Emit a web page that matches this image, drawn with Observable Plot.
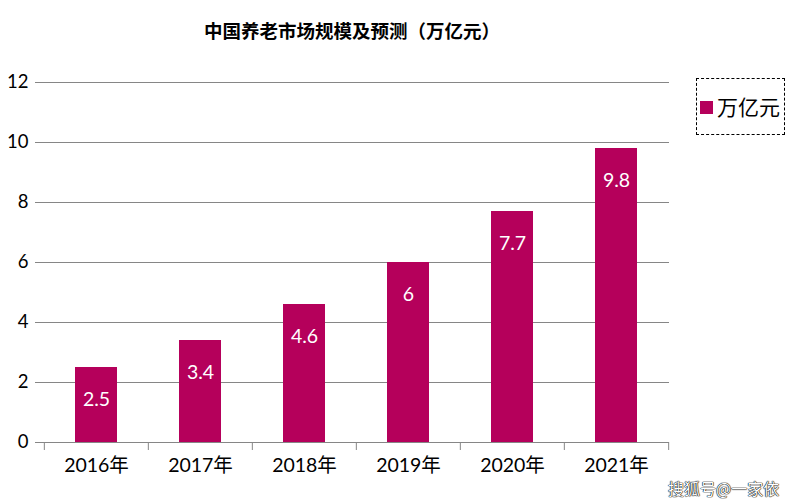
<!DOCTYPE html>
<html><head><meta charset="utf-8">
<script src="https://cdn.jsdelivr.net/npm/d3@7"></script>
<script src="https://cdn.jsdelivr.net/npm/@observablehq/plot@0.6"></script>
<style>
body{margin:0;background:#fff;font-family:Lato,"Noto Sans CJK SC",sans-serif;}
#wrap{position:relative;width:793px;height:504px;}
#title{height:50px;width:704px;text-align:center;line-height:60px;font-weight:bold;font-size:18.5px;color:#000;font-family:"Noto Sans CJK SC",sans-serif;}
#legend{position:absolute;left:696px;top:78px;width:87px;height:55px;border:1px dashed #000;}
#legend .sw{position:absolute;left:3px;top:22px;width:13px;height:13px;background:#B5005B;}
#legend .lb{position:absolute;left:20px;top:13px;font-size:21px;line-height:28px;font-family:"Noto Sans CJK SC",sans-serif;}
#wm{position:absolute;left:668px;top:476px;font-size:16px;color:#fff;font-family:"Noto Sans CJK SC",sans-serif;text-shadow:0 0 1px #000,0 0 1px #000,0 0 1px #000;}
</style></head>
<body><div id="wrap"><div id="title">中国养老市场规模及预测（万亿元）</div>
<div id="chart"></div>
<div id="legend"><div class="sw"></div><div class="lb">万亿元</div></div>
<div id="wm">搜狐号@一家依</div></div>
<script>
const years = ["2016年","2017年","2018年","2019年","2020年","2021年"];
const values = [2.5, 3.4, 4.6, 6, 7.7, 9.8];
const yTicks = [0,2,4,6,8,10,12];
const data = years.map((y,i)=>({year:y, value:values[i]}));
const color = "#B5005B";
const step = (793-43-124)/years.length;
const chart = Plot.plot({
  width:793, height:454,
  marginTop:32, marginBottom:62, marginLeft:43, marginRight:124,
  style:{fontFamily:'Lato,"Noto Sans CJK SC",sans-serif', fontSize:"18px", color:"#000", background:"#fff"},
  x:{domain:years, paddingInner:0.6, paddingOuter:0.3, label:null},
  y:{domain:[0,12], label:null},
  marks:[
    Plot.ruleY(yTicks, {stroke:"#868686", strokeOpacity:1, strokeWidth:1}),
    Plot.axisY({ticks:yTicks, tickSize:8, tickPadding:7, stroke:"#868686", strokeOpacity:1, fontSize:18.5, label:null}),
    Plot.ruleX([0], {frameAnchor:"left", stroke:"#868686", y1:0, y2:12, insetBottom:-8}),
    Plot.ruleX(years, {x:d=>d, dx:-step/2, y1:0, y2:0, insetBottom:-8, stroke:"#868686"}),
    Plot.ruleX([years[years.length-1]], {x:d=>d, dx:step/2, y1:0, y2:0, insetBottom:-8, stroke:"#868686"}),
    Plot.barY(data, {x:"year", y:"value", fill:color}),
    Plot.text(data, {x:"year", y:"value", text:d=>String(d.value), dy:32, fill:"#fff", fontSize:19.5}),
    Plot.axisX({tickSize:0, tickPadding:16, fontSize:19.5, label:null})
  ]
});
document.getElementById("chart").appendChild(chart);
</script></body></html>
